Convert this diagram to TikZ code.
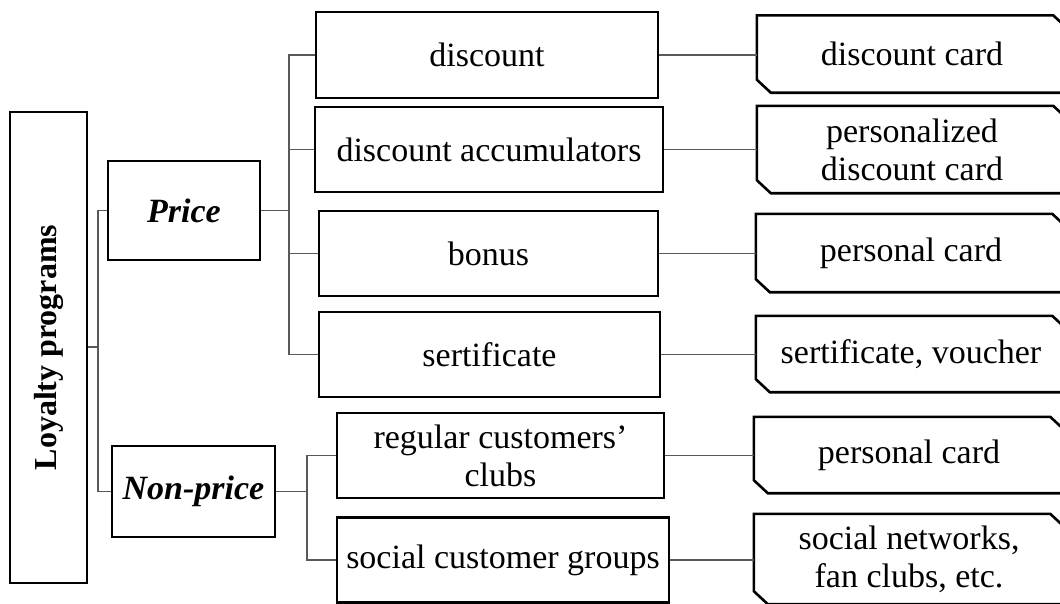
\documentclass[tikz,border=0pt]{standalone}
\usepackage{fontspec}
\setmainfont{Liberation Serif}
\begin{document}
\begin{tikzpicture}[x=1pt,y=-1pt,
  box/.style={draw=black,line width=2.6pt,inner sep=0pt,align=center,font=\fontsize{34}{38}\selectfont},
  cardnode/.style={inner sep=0pt,align=center,font=\fontsize{34}{38}\selectfont,minimum width=310pt},
  cardline/.style={draw=black,line width=2.6pt,line join=miter},
  conn/.style={draw=black!65,line width=1.4pt}]
\clip (0,0) rectangle (1060,603);
\fill[white] (0,0) rectangle (1060,603);
% level 1
\node[box,minimum width=77pt,minimum height=471pt] (loy) at (48.5,347.5) {};
\node[rotate=90,font=\fontsize{32}{38}\selectfont\bfseries] (loyt) at (48.5,347.5) {Loyalty programs};
% level 2
\node[box,minimum width=152pt,minimum height=99pt] (price) at (184,210.5) {\textbf{\textit{Price}}};
\node[box,minimum width=163pt,minimum height=91pt] (nonprice) at (193.5,491.5) {\textbf{\textit{Non-price}}};
% level 3
\node[box,minimum width=342pt,minimum height=86pt] (disc) at (487,55) {discount};
\node[box,minimum width=348pt,minimum height=85pt] (acc) at (489,149.5) {discount accumulators};
\node[box,minimum width=339pt,minimum height=85pt] (bonus) at (488.5,253.5) {bonus};
\node[box,minimum width=341pt,minimum height=85pt] (sert) at (489.5,354.5) {sertificate};
\node[box,minimum width=327pt,minimum height=85pt] (club) at (500.5,455.5) {regular customers’\\clubs};
\node[box,minimum width=332pt,minimum height=85pt] (social) at (503,560) {social customer groups};
% level 4 cards
\node[cardnode,minimum height=77pt] (c1) at (912,54) {discount card};
\node[cardnode,minimum height=87pt] (c2) at (912,149.5) {personalized\\discount card};
\node[cardnode,minimum height=78pt] (c3) at (911,253) {personal card};
\node[cardnode,minimum height=76pt] (c4) at (911,354) {sertificate, voucher};
\node[cardnode,minimum height=76pt] (c5) at (909,455) {personal card};
\node[cardnode,minimum height=90pt] (c6) at (909,559) {social networks,\\fan clubs, etc.};
\foreach \c in {c1,c2,c3,c4,c5,c6}{
  \draw[cardline] (\c.north west) -- ([xshift=-14pt]\c.north east) -- ([yshift=-13pt]\c.north east)
    -- (\c.south east) -- ([xshift=14pt]\c.south west) -- ([yshift=13pt]\c.south west) -- cycle;
}
% connectors
\coordinate (f0) at (98,347);
\draw[conn] (loy.east |- f0) -- (f0);
\draw[conn] (price.west) -| (f0) |- (nonprice.west);
\coordinate (f1) at (289,210.5);
\draw[conn] (price.east) -- (f1);
\draw[conn] (disc.west) -| (f1) |- (sert.west);
\draw[conn] (acc.west) -- (acc.west -| f1);
\draw[conn] (bonus.west) -- (bonus.west -| f1);
\coordinate (f2) at (307,491.5);
\draw[conn] (nonprice.east) -- (f2);
\draw[conn] (club.west) -| (f2) |- (social.west);
\draw[conn] (disc.east) -- (disc.east -| c1.west);
\draw[conn] (acc.east) -- (acc.east -| c2.west);
\draw[conn] (bonus.east) -- (bonus.east -| c3.west);
\draw[conn] (sert.east) -- (sert.east -| c4.west);
\draw[conn] (club.east) -- (club.east -| c5.west);
\draw[conn] (social.east) -- (social.east -| c6.west);
\end{tikzpicture}
\end{document}
